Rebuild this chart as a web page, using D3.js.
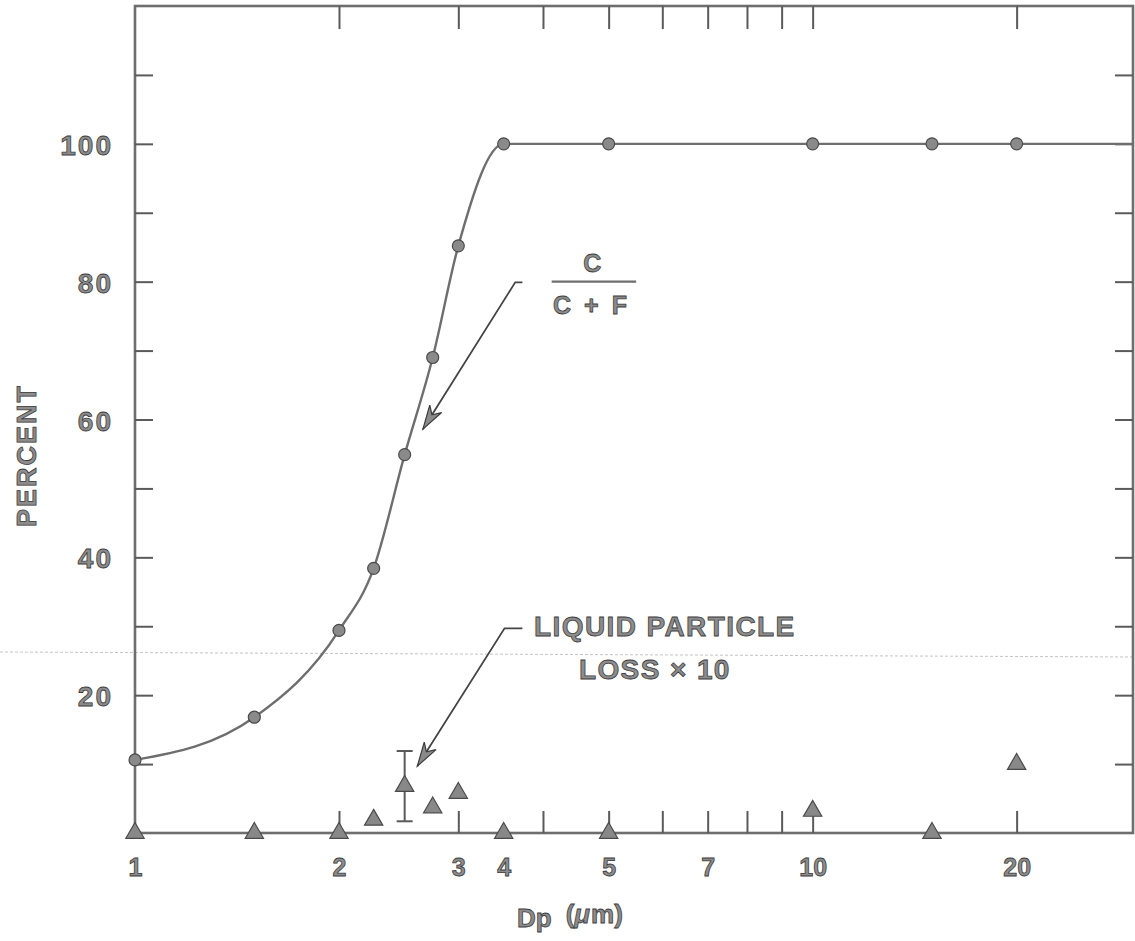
<!DOCTYPE html>
<html><head><meta charset="utf-8">
<script src="https://cdn.jsdelivr.net/npm/d3@7"></script>
<style>html,body{margin:0;padding:0;background:#fff;} svg{display:block}</style>
</head><body>
<svg id="chart" width="1135" height="941"></svg>
<script>
// ---------------- data ----------------
const ratioDp  = [1, 1.5, 2, 2.25, 2.5, 2.75, 3, 3.5, 5, 10, 15, 20];
const ratioPct = [10.6, 16.8, 29.4, 38.4, 54.9, 69.0, 85.2, 100, 100, 100, 100, 100];
const lossDp   = [1, 1.5, 2, 2.25, 2.5, 2.75, 3, 3.5, 5, 10, 15, 20];
const lossPct  = [0, 0, 0, 1.9, 6.8, 3.7, 5.8, 0, 0, 3.2, 0, 10.0];
const lossErrDp   = [2.5];
const lossErrLow  = [1.7];
const lossErrHigh = [11.9];
const xTickValues  = [2, 3, 4, 5, 6, 7, 8, 9, 10, 20];
const xLabelValues = [1, 2, 3, 3.5, 5, 7, 10, 20];
const xLabelTexts  = ["1", "2", "3", "4", "5", "7", "10", "20"];
const yTickValues  = [10, 20, 30, 40, 50, 60, 70, 80, 90, 100, 110];
const yLabelValues = [20, 40, 60, 80, 100];
const ratioLabelTop = "C";
const ratioLabelBottom = "C + F";
const lossLabel1 = "LIQUID PARTICLE";
const lossLabel2 = "LOSS \u00d7 10";
const yTitle = "PERCENT";

// ---------------- layout ----------------
const W = 1135, H = 941;
const xMin = 1, xMax = 29.7, yMin = 0, yMax = 120;
const x = d3.scaleLog().domain([xMin, xMax]).range([135, 1133]);
const y = d3.scaleLinear().domain([yMin, yMax]).range([833, 6]);

const ink = "#5a5a5a";
const lineGray = "#6e6e6e";
const font = "'Liberation Sans', Arial, sans-serif";
function styleText(sel, size) {
  sel.attr("font-family", font).attr("font-weight", "bold").attr("font-size", size)
     .attr("fill", "#8c8c8c").attr("stroke", "#3c3c3c").attr("stroke-width", 0.8);
}

const svg = d3.select("#chart");
svg.append("rect").attr("width", W).attr("height", H).attr("fill", "#fff");

// faint scan artifact line
svg.append("line").attr("x1", 0).attr("y1", 652).attr("x2", W).attr("y2", 657)
   .attr("stroke", "#c4c4c4").attr("stroke-width", 1).attr("stroke-dasharray", "3,2");

// frame
svg.append("rect")
  .attr("x", x(xMin)).attr("y", y(yMax))
  .attr("width", x(xMax) - x(xMin)).attr("height", y(yMin) - y(yMax))
  .attr("fill", "none").attr("stroke", lineGray).attr("stroke-width", 2.6);

function styleAxis(g) {
  g.select(".domain").remove();
  g.selectAll(".tick line").attr("stroke", ink).attr("stroke-width", 2);
}

// bottom ticks (pointing up)
svg.append("g").attr("transform", `translate(0,${y(yMin)})`)
  .call(d3.axisBottom(x).tickValues(xTickValues).tickSize(-22).tickFormat(""))
  .call(styleAxis);
// top ticks (pointing down)
svg.append("g").attr("transform", `translate(0,${y(yMax)})`)
  .call(d3.axisTop(x).tickValues(xTickValues).tickSize(-23).tickFormat(""))
  .call(styleAxis);
// left ticks
svg.append("g").attr("transform", `translate(${x(xMin)},0)`)
  .call(d3.axisLeft(y).tickValues(yTickValues).tickSize(-18).tickFormat(""))
  .call(styleAxis);
// right ticks
svg.append("g").attr("transform", `translate(${x(xMax)},0)`)
  .call(d3.axisRight(y).tickValues(yTickValues).tickSize(-18).tickFormat(""))
  .call(styleAxis);

// x labels
const xLab = svg.append("g").attr("transform", `translate(0,${y(yMin)})`)
  .call(d3.axisBottom(x).tickValues(xLabelValues).tickSize(0).tickPadding(0)
        .tickFormat((d, i) => xLabelTexts[i]));
xLab.select(".domain").remove();
xLab.selectAll(".tick line").remove();
xLab.selectAll(".tick text").attr("dy", null).attr("y", 43).call(styleText, 25);

// y labels
const yLab = svg.append("g").attr("transform", `translate(${x(xMin)},0)`)
  .call(d3.axisLeft(y).tickValues(yLabelValues).tickSize(0).tickPadding(22)
        .tickFormat(d3.format("d")));
yLab.select(".domain").remove();
yLab.selectAll(".tick line").remove();
yLab.selectAll(".tick text").attr("dy", "0.38em").attr("letter-spacing", 2).call(styleText, 28);

// axis titles
svg.append("text").attr("transform", `translate(36,${(y(yMin) + y(yMax)) / 2 + 36}) rotate(-90)`)
  .attr("text-anchor", "middle").attr("letter-spacing", 2).text(yTitle).call(styleText, 27);
const xt = svg.append("text").attr("x", 517).attr("y", 927);
xt.append("tspan").text("Dp");
xt.append("tspan").attr("dx", 14).attr("dy", -4).text("(");
xt.append("tspan").attr("font-style", "italic").text("\u03bc");
xt.append("tspan").attr("dx", 1).text("m)");
xt.call(styleText, 26);

// ratio curve
const ratioData = ratioDp.map((d, i) => ({ x: d, y: ratioPct[i] }));
const line = d3.line().x(d => x(d.x)).y(d => y(d.y)).curve(d3.curveMonotoneX);
svg.append("path").datum(ratioData).attr("d", line)
  .attr("fill", "none").attr("stroke", lineGray).attr("stroke-width", 2.4);
// continuation of the plateau to the right frame
const last = ratioData[ratioData.length - 1];
svg.append("line").attr("x1", x(last.x)).attr("x2", x(xMax))
  .attr("y1", y(last.y)).attr("y2", y(last.y))
  .attr("stroke", lineGray).attr("stroke-width", 2.4);

svg.append("g").selectAll("circle").data(ratioData).join("circle")
  .attr("cx", d => x(d.x)).attr("cy", d => y(d.y)).attr("r", 6)
  .attr("fill", "#8a8a8a").attr("stroke", "#4a4a4a").attr("stroke-width", 1.2);

// loss error bar
const errData = lossErrDp.map((d, i) => ({ x: d, lo: lossErrLow[i], hi: lossErrHigh[i] }));
const eg = svg.append("g").attr("stroke", ink).attr("stroke-width", 2);
eg.selectAll(".v").data(errData).join("line")
  .attr("x1", d => x(d.x)).attr("x2", d => x(d.x)).attr("y1", d => y(d.lo)).attr("y2", d => y(d.hi));
eg.selectAll(".t").data(errData).join("line")
  .attr("x1", d => x(d.x) - 8).attr("x2", d => x(d.x) + 8).attr("y1", d => y(d.hi)).attr("y2", d => y(d.hi));
eg.selectAll(".b").data(errData).join("line")
  .attr("x1", d => x(d.x) - 8).attr("x2", d => x(d.x) + 8).attr("y1", d => y(d.lo)).attr("y2", d => y(d.lo));

// loss triangles
const lossData = lossDp.map((d, i) => ({ x: d, y: lossPct[i] }));
const tri = d3.symbol().type(d3.symbolTriangle).size(145);
svg.append("g").selectAll("path").data(lossData).join("path")
  .attr("d", tri).attr("transform", d => `translate(${x(d.x)},${y(d.y)})`)
  .attr("fill", "#888").attr("stroke", "#4a4a4a").attr("stroke-width", 1.2);

// annotations
function arrow(fromX, fromY, tipX, tipY, stubX) {
  const g = svg.append("g");
  const fx = x(fromX), fy = y(fromY), tx = x(tipX), ty = y(tipY);
  g.append("path").attr("d", `M${x(stubX)},${fy}L${fx},${fy}L${tx},${ty}`)
    .attr("fill", "none").attr("stroke", "#444").attr("stroke-width", 1.8);
  const ang = Math.atan2(ty - fy, tx - fx) * 180 / Math.PI;
  g.append("path").attr("d", "M0,0L-24,-7L-17,0L-24,7Z")
    .attr("transform", `translate(${tx},${ty}) rotate(${ang})`)
    .attr("fill", "#8a8a8a").attr("stroke", "#3c3c3c").attr("stroke-width", 1.2);
}
arrow(3.64, 79.9, 2.66, 58.6, 3.73);
arrow(3.51, 29.7, 2.61, 9.7, 3.73);

// C / (C+F)
svg.append("text").attr("x", x(4.73)).attr("y", y(80) - 10).attr("text-anchor", "middle")
  .text(ratioLabelTop).call(styleText, 25);
svg.append("line").attr("x1", x(4.12)).attr("x2", x(5.49)).attr("y1", y(80)).attr("y2", y(80))
  .attr("stroke", lineGray).attr("stroke-width", 2.2);
svg.append("text").attr("x", x(4.14)).attr("y", y(80) + 32).attr("letter-spacing", 3)
  .attr("xml:space", "preserve").text(ratioLabelBottom).call(styleText, 25);

// LIQUID PARTICLE LOSS x 10
svg.append("text").attr("x", x(3.88)).attr("y", y(28.6)).attr("letter-spacing", 1.4)
  .text(lossLabel1).call(styleText, 28);
svg.append("text").attr("x", x(4.52)).attr("y", y(22.4)).attr("letter-spacing", 1.4)
  .text(lossLabel2).call(styleText, 28);
</script>
</body></html>
